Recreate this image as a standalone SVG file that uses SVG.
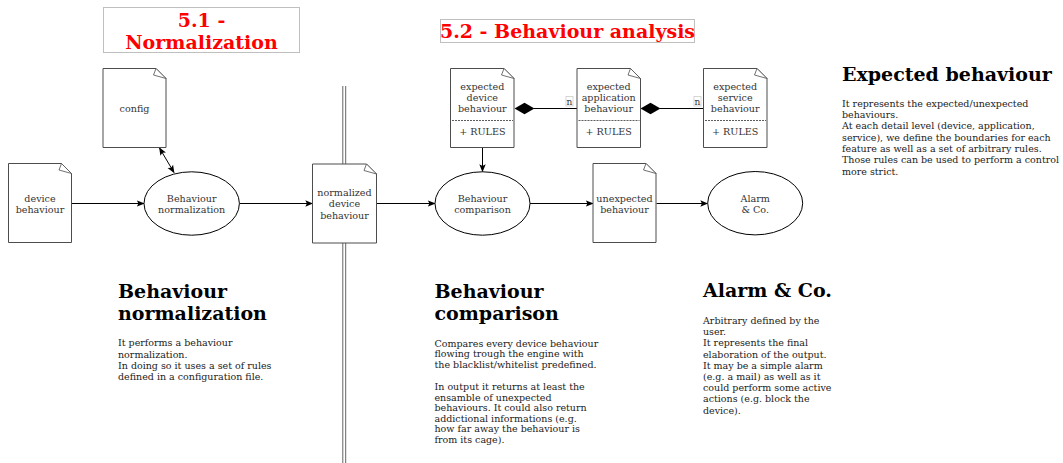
<svg xmlns="http://www.w3.org/2000/svg" width="1063" height="463" viewBox="0 0 1063 463">
  <style>
    .note { fill: #ffffff; stroke: #4d4d4d; stroke-width: 1; }
    .fold { fill: #ffffff; stroke: #4d4d4d; stroke-width: 0.8; }
    .proc { fill: #ffffff; stroke: #000000; stroke-width: 1; }
    .lbl { font-family: "DejaVu Serif", serif; font-size: 9.6px; fill: #333333; text-anchor: middle; }
    .title { font-family: "DejaVu Serif", serif; font-size: 19px; font-weight: bold; fill: #ff0000; text-anchor: middle; }
    .tbox { fill: #ffffff; stroke: #bfbfbf; stroke-width: 1; }
    .head { font-family: "DejaVu Serif", serif; font-size: 19px; font-weight: bold; fill: #000000; }
    .body { font-family: "DejaVu Serif", serif; font-size: 9.5px; fill: #222222; }
    .edge { fill: none; stroke: #000000; stroke-width: 1; }
    .diamond { fill: #000000; stroke: none; }
    .sep { fill: none; stroke: #333333; stroke-width: 0.8; stroke-dasharray: 2 1; }
    .mult { font-family: "DejaVu Serif", serif; font-size: 9px; fill: #333333; text-anchor: middle; }
    .mbox { fill: #ffffff; stroke: #cccccc; stroke-width: 0.8; }
  </style>
  <defs>
    <marker id="arrow" viewBox="0 0 10 10" refX="9" refY="5" markerWidth="8" markerHeight="8" markerUnits="userSpaceOnUse" orient="auto-start-reverse">
      <path d="M0,1 L10,5 L0,9 L2,5 z" fill="#000000"/>
    </marker>
  </defs>

  <rect width="1063" height="463" fill="#ffffff"/>

  <!-- section divider -->
  <g id="divider">
    <line x1="342.8" y1="86" x2="342.8" y2="463" stroke="#666666" stroke-width="1"/>
    <line x1="345.7" y1="86" x2="345.7" y2="463" stroke="#666666" stroke-width="1"/>
  </g>

  <!-- section titles -->
  <g id="title-normalization">
    <rect class="tbox" x="103.5" y="7.5" width="196" height="45"/>
    <text class="title" x="201.5" y="26.5">5.1 -</text>
    <text class="title" x="201.5" y="48.8">Normalization</text>
  </g>
  <g id="title-analysis">
    <rect class="tbox" x="440.5" y="19.5" width="254" height="23"/>
    <text class="title" x="567.5" y="37.5">5.2 - Behaviour analysis</text>
  </g>

  <!-- connectors -->
  <g id="connectors">
    <line class="edge" x1="71.5" y1="203.5" x2="144" y2="203.5" marker-end="url(#arrow)"/>
    <line class="edge" x1="239.5" y1="203.5" x2="312.5" y2="203.5" marker-end="url(#arrow)"/>
    <line class="edge" x1="376.5" y1="203.5" x2="435" y2="203.5" marker-end="url(#arrow)"/>
    <line class="edge" x1="530" y1="203.5" x2="593" y2="203.5" marker-end="url(#arrow)"/>
    <line class="edge" x1="656.5" y1="203.5" x2="707.5" y2="203.5" marker-end="url(#arrow)"/>
    <line class="edge" x1="159.5" y1="148" x2="174" y2="172.5" marker-start="url(#arrow)" marker-end="url(#arrow)"/>
    <line class="edge" x1="482.5" y1="148" x2="482.5" y2="171.5" marker-end="url(#arrow)"/>
    <!-- composition links -->
    <line class="edge" x1="534" y1="108.5" x2="577" y2="108.5"/>
    <path class="diamond" d="M514.5,108.5 L524.5,102.7 L534.5,108.5 L524.5,114.3 z"/>
    <line class="edge" x1="660" y1="108.5" x2="703.5" y2="108.5"/>
    <path class="diamond" d="M640.5,108.5 L650.5,102.7 L660.5,108.5 L650.5,114.3 z"/>
    <rect class="mbox" x="566" y="96.5" width="7" height="9.5"/>
    <text class="mult" x="569.5" y="104.5">n</text>
    <rect class="mbox" x="694" y="96.5" width="7" height="9.5"/>
    <text class="mult" x="697.5" y="104.5">n</text>
  </g>

  <!-- documents -->
  <g id="config">
    <path class="note" d="M103,68.5 h53 l10,10 v69 h-63 z"/>
    <path class="fold" d="M156,68.5 l-2.5,6.5 l12.5,3.5 z"/>
    <text class="lbl" x="134.5" y="112">config</text>
  </g>
  <g id="device-behaviour">
    <path class="note" d="M8.5,163.5 h53 l10,10 v69 h-63 z"/>
    <path class="fold" d="M61.5,163.5 l-2.5,6.5 l12.5,3.5 z"/>
    <text class="lbl" x="40" y="201.5">device</text>
    <text class="lbl" x="40" y="212.8">behaviour</text>
  </g>
  <g id="normalized-device-behaviour">
    <path class="note" d="M312.5,164 h54 l10,10 v69 h-64 z"/>
    <path class="fold" d="M366.5,164 l-2.5,6.5 l12.5,3.5 z"/>
    <text class="lbl" x="344.5" y="195.5">normalized</text>
    <text class="lbl" x="344.5" y="207">device</text>
    <text class="lbl" x="344.5" y="218.5">behaviour</text>
  </g>
  <g id="unexpected-behaviour">
    <path class="note" d="M593,163.5 h53 l10,10 v69 h-63 z"/>
    <path class="fold" d="M646,163.5 l-2.5,6.5 l12.5,3.5 z"/>
    <text class="lbl" x="624.5" y="201.5">unexpected</text>
    <text class="lbl" x="624.5" y="212.8">behaviour</text>
  </g>
  <g id="expected-device-behaviour">
    <path class="note" d="M450.5,68.5 h53.5 l10,10 v69 h-63.5 z"/>
    <path class="fold" d="M504,68.5 l-2.5,6.5 l12.5,3.5 z"/>
    <text class="lbl" x="482.3" y="89.5">expected</text>
    <text class="lbl" x="482.3" y="100.8">device</text>
    <text class="lbl" x="482.3" y="112">behaviour</text>
    <line class="sep" x1="452" y1="120.5" x2="513" y2="120.5"/>
    <text class="lbl" x="482.3" y="135">+ RULES</text>
  </g>
  <g id="expected-application-behaviour">
    <path class="note" d="M577,68.5 h53.5 l10,10 v69 h-63.5 z"/>
    <path class="fold" d="M630.5,68.5 l-2.5,6.5 l12.5,3.5 z"/>
    <text class="lbl" x="608.7" y="89.5">expected</text>
    <text class="lbl" x="608.7" y="100.8">application</text>
    <text class="lbl" x="608.7" y="112">behaviour</text>
    <line class="sep" x1="578.5" y1="120.5" x2="639.5" y2="120.5"/>
    <text class="lbl" x="608.7" y="135">+ RULES</text>
  </g>
  <g id="expected-service-behaviour">
    <path class="note" d="M703.5,68.5 h53.5 l10,10 v69 h-63.5 z"/>
    <path class="fold" d="M757,68.5 l-2.5,6.5 l12.5,3.5 z"/>
    <text class="lbl" x="735.2" y="89.5">expected</text>
    <text class="lbl" x="735.2" y="100.8">service</text>
    <text class="lbl" x="735.2" y="112">behaviour</text>
    <line class="sep" x1="705" y1="120.5" x2="766" y2="120.5"/>
    <text class="lbl" x="735.2" y="135">+ RULES</text>
  </g>

  <!-- processes -->
  <g id="behaviour-normalization">
    <ellipse class="proc" cx="191.7" cy="203.5" rx="47.7" ry="31.7"/>
    <text class="lbl" x="191.7" y="201.5">Behaviour</text>
    <text class="lbl" x="191.7" y="212.8">normalization</text>
  </g>
  <g id="behaviour-comparison">
    <ellipse class="proc" cx="482.5" cy="203.5" rx="47.5" ry="31.7"/>
    <text class="lbl" x="482.5" y="201.5">Behaviour</text>
    <text class="lbl" x="482.5" y="212.8">comparison</text>
  </g>
  <g id="alarm-co">
    <ellipse class="proc" cx="755.2" cy="203.2" rx="47.5" ry="31.7"/>
    <text class="lbl" x="755.2" y="201.5">Alarm</text>
    <text class="lbl" x="755.2" y="212.8">&amp; Co.</text>
  </g>

  <!-- descriptions -->
  <g id="desc-expected">
    <text class="head" x="842" y="80.7">Expected behaviour</text>
    <text class="body" x="842" y="106.8">
      <tspan x="842" dy="0">It represents the expected/unexpected</tspan>
      <tspan x="842" dy="11.3">behaviours.</tspan>
      <tspan x="842" dy="11.3">At each detail level (device, application,</tspan>
      <tspan x="842" dy="11.3">service), we define the boundaries for each</tspan>
      <tspan x="842" dy="11.3">feature as well as a set of arbitrary rules.</tspan>
      <tspan x="842" dy="11.3">Those rules can be used to perform a control</tspan>
      <tspan x="842" dy="11.3">more strict.</tspan>
    </text>
  </g>
  <g id="desc-normalization">
    <text class="head" x="118" y="297.7">Behaviour</text>
    <text class="head" x="118" y="320">normalization</text>
    <text class="body" x="118" y="346.2">
      <tspan x="118" dy="0">It performs a behaviour</tspan>
      <tspan x="118" dy="11.3">normalization.</tspan>
      <tspan x="118" dy="11.3">In doing so it uses a set of rules</tspan>
      <tspan x="118" dy="11.3">defined in a configuration file.</tspan>
    </text>
  </g>
  <g id="desc-comparison">
    <text class="head" x="434.5" y="297.7">Behaviour</text>
    <text class="head" x="434.5" y="320">comparison</text>
    <text class="body" x="434.5" y="346.5">
      <tspan x="434.5" dy="0">Compares every device behaviour</tspan>
      <tspan x="434.5" dy="10.8">flowing trough the engine with</tspan>
      <tspan x="434.5" dy="10.8">the blacklist/whitelist predefined.</tspan>
      <tspan x="434.5" dy="21.8">In output it returns at least the</tspan>
      <tspan x="434.5" dy="10.6">ensamble of unexpected</tspan>
      <tspan x="434.5" dy="10.6">behaviours. It could also return</tspan>
      <tspan x="434.5" dy="10.6">addictional informations (e.g.</tspan>
      <tspan x="434.5" dy="10.6">how far away the behaviour is</tspan>
      <tspan x="434.5" dy="10.6">from its cage).</tspan>
    </text>
  </g>
  <g id="desc-alarm">
    <text class="head" x="703" y="297">Alarm &amp; Co.</text>
    <text class="body" x="703" y="324">
      <tspan x="703" dy="0">Arbitrary defined by the</tspan>
      <tspan x="703" dy="11.2">user.</tspan>
      <tspan x="703" dy="11.2">It represents the final</tspan>
      <tspan x="703" dy="11.2">elaboration of the output.</tspan>
      <tspan x="703" dy="11.2">It may be a simple alarm</tspan>
      <tspan x="703" dy="11.2">(e.g. a mail) as well as it</tspan>
      <tspan x="703" dy="11.2">could perform some active</tspan>
      <tspan x="703" dy="11.2">actions (e.g. block the</tspan>
      <tspan x="703" dy="11.2">device).</tspan>
    </text>
  </g>
</svg>
